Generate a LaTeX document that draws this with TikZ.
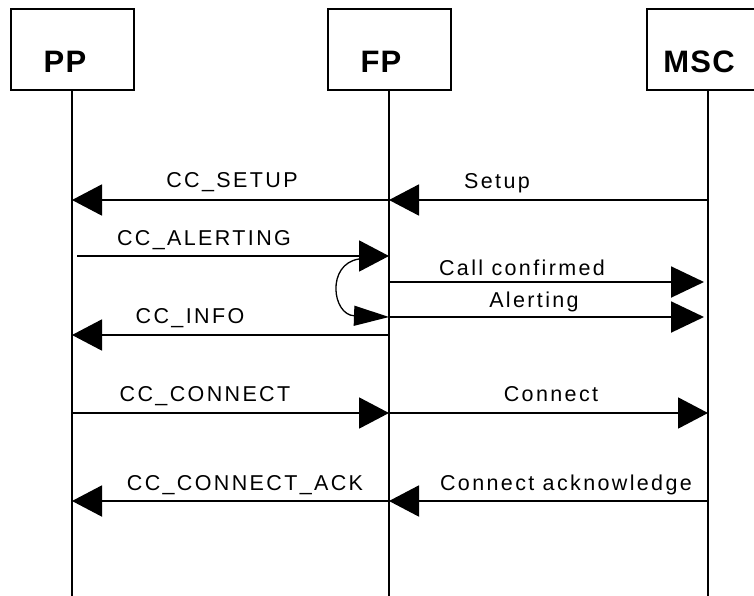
\documentclass[tikz,border=0pt]{standalone}
\usepackage{fontspec}
\setmainfont{Liberation Sans}
\newfontfamily\msgfont{Liberation Sans}[LetterSpace=11]
\newfontfamily\headfont{Liberation Sans}[LetterSpace=4]
\usetikzlibrary{arrows.meta, positioning}

\tikzset{
	head/.style={draw, line width=2pt, minimum width=123pt, minimum height=81.5pt, inner sep=0pt},
	headlabel/.style={anchor=base, inner sep=0pt, font=\headfont\bfseries\fontsize{31}{31}\selectfont},
	life/.style={line width=1.9pt},
	msg/.style={line width=1.9pt, -{Triangle[length=30pt, width=31pt]}},
	msglabel/.style={anchor=base, inner sep=0pt, font=\msgfont\fontsize{21.5}{21.5}\selectfont},
}

\begin{document}
\begin{tikzpicture}[x=1pt, y=-1pt]
	\useasboundingbox (0,0) rectangle (754,595);
	\clip (0,0) rectangle (754,595);

	\node[head] (pp) at (72,49.25) {};
	\node[head] (fp) at (389,49.25) {};
	\node[head] (msc) at (708,49.25) {};
	\node[headlabel] (pp-label) at (65,72) {PP};
	\node[headlabel] (fp-label) at (381,72) {FP};
	\node[headlabel] (msc-label) at (699,72) {MSC};

	\coordinate (pp-end) at (72,600);
	\coordinate (fp-end) at (389,600);
	\coordinate (msc-end) at (708,600);
	\draw[life] (pp.south) -- (pp-end);
	\draw[life] (fp.south) -- (fp-end);
	\draw[life] (msc.south) -- (msc-end);

	\foreach \row/\y in {setup/200, alerting/256, confirm/282, alert/317, info/335, connect/413, ack/501} {
		\coordinate (pp-\row) at (72,\y);
		\coordinate (fp-\row) at (389,\y);
		\coordinate (msc-\row) at (708,\y);
	}
	\coordinate (alerting-start) at (77,256);
	\coordinate (confirm-end) at (704,282);
	\coordinate (alert-end) at (704,317);
	\coordinate (relay-start) at (359,259);

	\draw[msg] (fp-setup) -- (pp-setup);
	\draw[msg] (msc-setup) -- (fp-setup);
	\draw[msg] (alerting-start) -- (fp-alerting);
	\draw[msg, -{Triangle[length=33pt, width=31pt]}] (fp-confirm) -- (confirm-end);
	\draw[msg, -{Triangle[length=33pt, width=31pt]}] (fp-alert) -- (alert-end);
	\draw[line width=1.3pt, -{Triangle[length=35pt, width=20pt]}] (relay-start) .. controls (326,264) and (332,315) .. (fp-alert);
	\draw[msg] (fp-info) -- (pp-info);
	\draw[msg] (pp-connect) -- (fp-connect);
	\draw[msg] (fp-connect) -- (msc-connect);
	\draw[msg] (fp-ack) -- (pp-ack);
	\draw[msg] (msc-ack) -- (fp-ack);

	\node[msglabel] (setup-pp-label) at (232,187) {CC\_SETUP};
	\node[msglabel] (setup-msc-label) at (497,188) {Setup};
	\node[msglabel] (alerting-label) at (204,245) {CC\_ALERTING};
	\node[msglabel] (confirm-label) at (522,275) {Call confirmed};
	\node[msglabel] (alert-label) at (534,307) {Alerting};
	\node[msglabel] (info-label) at (190,323) {CC\_INFO};
	\node[msglabel] (connect-pp-label) at (205,401) {CC\_CONNECT};
	\node[msglabel] (connect-msc-label) at (551,401) {Connect};
	\node[msglabel] (ack-pp-label) at (245,490) {CC\_CONNECT\_ACK};
	\node[msglabel] (ack-msc-label) at (566,490) {Connect acknowledge};
\end{tikzpicture}
\end{document}
